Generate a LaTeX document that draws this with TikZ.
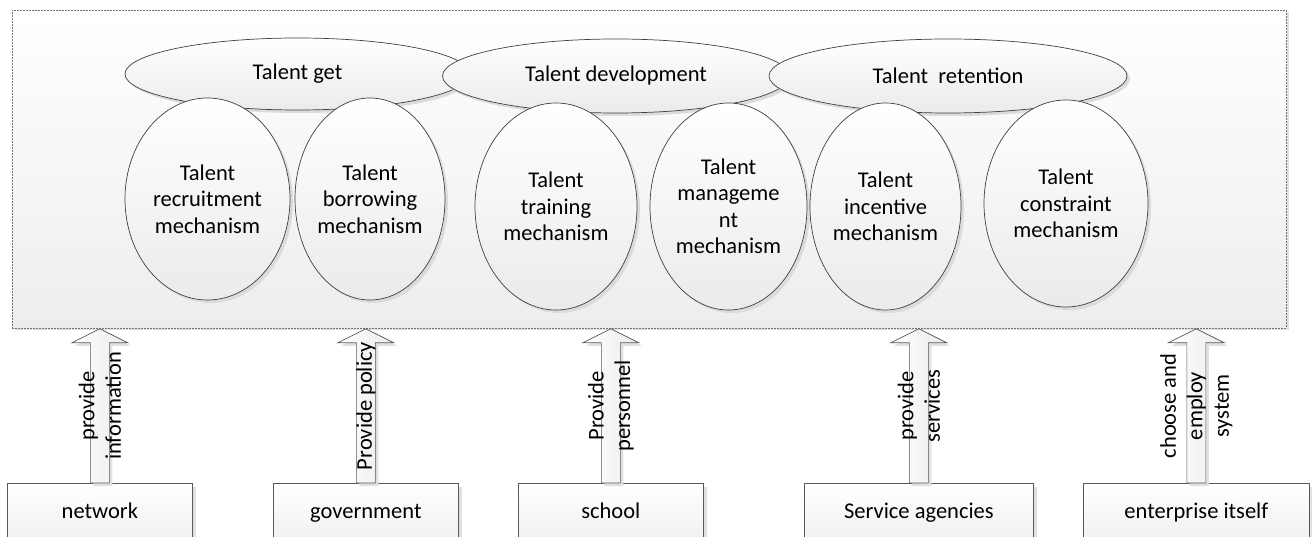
\documentclass[tikz,border=0pt]{standalone}
\usepackage{fontspec}
\setmainfont{Carlito}
\usetikzlibrary{shadows,calc,shapes.geometric}
\begin{document}
\begin{tikzpicture}[x=1pt,y=-1pt,
  lbl/.style={font=\fontsize{22.5}{26.5}\selectfont, align=center, text=black},
  frame/.style={rectangle, draw=black!55, dash pattern=on 2pt off 1pt, line width=0.8pt,
    top color=white, bottom color=black!7, inner sep=0pt,
    drop shadow={shadow xshift=3pt, shadow yshift=-2pt, fill=black!12, opacity=1}},
  oval/.style={ellipse, draw=black!75, line width=0.7pt, top color=white, bottom color=black!8,
    inner sep=0pt, lbl,
    drop shadow={shadow xshift=3pt, shadow yshift=-3pt, fill=black!14, opacity=1}},
  box/.style={rectangle, draw=black!65, line width=0.7pt, top color=white, bottom color=black!6,
    inner sep=0pt, minimum height=60pt, anchor=north west, lbl, text height=15pt, text depth=4pt,
    drop shadow={shadow xshift=4pt, shadow yshift=-4pt, fill=black!12, opacity=1}},
  barrow/.style={draw=black!65, line width=0.7pt, left color=white, right color=black!8,
    drop shadow={shadow xshift=3pt, shadow yshift=-3pt, fill=black!12, opacity=1}},
  alabel/.style={lbl, rotate=90, inner sep=0pt}
]
\useasboundingbox (0,0) rectangle (1312,537);

% outer frame
\node[frame, minimum width=1274pt, minimum height=318pt, anchor=north west] (frame) at (12,10) {};

% top ellipses
\node[oval, minimum width=345pt, minimum height=72pt] (get) at (297.5,74) {Talent get};
\node[oval, minimum width=347pt, minimum height=74pt] (dev) at (616,76) {Talent development};
\node[oval, minimum width=358pt, minimum height=74pt] (ret) at (948,76) {Talent\ \ retention};

% mechanism ellipses
\node[oval, minimum width=165pt, minimum height=202pt] (m1) at (207.5,199) {Talent\\recruitment\\mechanism};
\node[oval, minimum width=150pt, minimum height=202pt] (m2) at (370,199) {Talent\\borrowing\\mechanism};
\node[oval, minimum width=162pt, minimum height=207pt] (m3) at (556,206.5) {Talent\\training\\mechanism};
\node[oval, minimum width=157pt, minimum height=207pt] (m4) at (728.5,206.5) {Talent\\manageme\\nt\\mechanism};
\node[oval, minimum width=151pt, minimum height=207pt] (m5) at (885.5,206.5) {Talent\\incentive\\mechanism};
\node[oval, minimum width=164pt, minimum height=207pt] (m6) at (1066,203.5) {Talent\\constraint\\mechanism};

% bottom boxes
\node[box, minimum width=185pt] (b1) at (7,483) {network};
\node[box, minimum width=185pt] (b2) at (273,483) {government};
\node[box, minimum width=185pt] (b3) at (518,483) {school};
\node[box, minimum width=229pt] (b4) at (804,483) {Service agencies};
\node[box, minimum width=226pt] (b5) at (1083,483) {enterprise itself};

% block arrows
\foreach \b in {b1,b2,b3,b4,b5}{
  \draw[barrow] let \p1=(\b.north), \p2=(frame.south) in
    (\x1-9.5pt,\y1) -- (\x1-9.5pt,\y2-14pt) -- (\x1-28pt,\y2-14pt) -- (\x1,\y2)
    -- (\x1+28pt,\y2-14pt) -- (\x1+9.5pt,\y2-14pt) -- (\x1+9.5pt,\y1) -- cycle;
}

% arrow labels
\node[alabel] (l1) at ($(b1.north)+(0,-77)$) {provide\\information};
\node[alabel] (l2) at ($(b2.north)+(0,-77)$) {Provide policy};
\node[alabel] (l3) at ($(b3.north)+(0,-77)$) {Provide\\personnel};
\node[alabel] (l4) at ($(b4.north)+(0,-77)$) {provide\\services};
\node[alabel] (l5) at ($(b5.north)+(0,-77)$) {choose and\\employ\\system};
\end{tikzpicture}
\end{document}
